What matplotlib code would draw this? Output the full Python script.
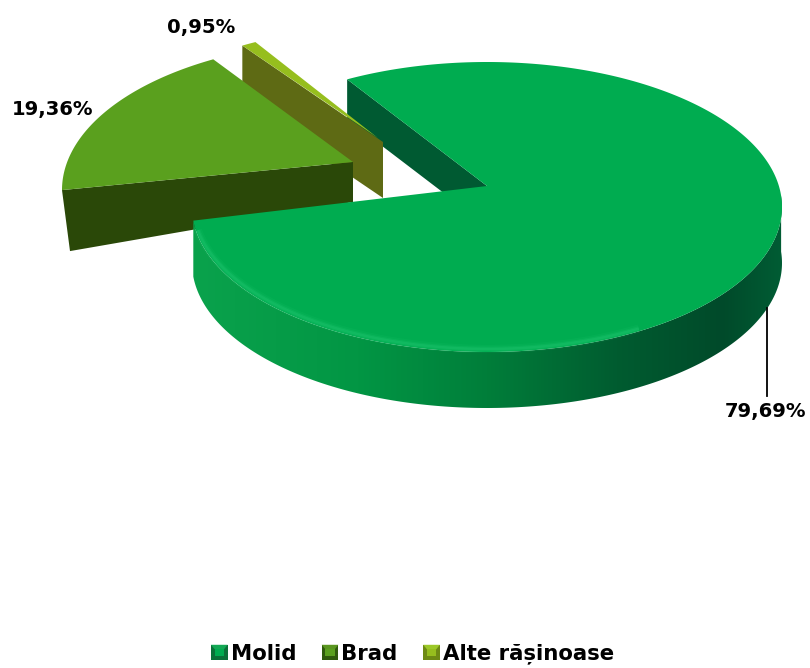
import numpy as np
import matplotlib
matplotlib.use("Agg")
import matplotlib.pyplot as plt
from matplotlib.patches import Polygon, Rectangle
from matplotlib.legend_handler import HandlerBase
from matplotlib.colors import LinearSegmentedColormap

# ---- data
categories = ["Molid", "Brad", "Alte rășinoase"]
shares = [79.69, 19.36, 0.95]
label_xy = [(765, 412), (53, 110), (201, 27)]

# ---- styling / layout of the fake perspective (pixel space)
top_colors = ["#00AC50", "#5AA01E", "#96BE1E"]
cut_colors = ["#005A32", "#2A4808", "#5E6A14"]
legend_dark = ["#0A7038", "#2F5A0C", "#6E8A14"]
legend_light = ["#12A854", "#5A9620", "#9CC828"]
# ellipse centre, radii | apex | start param angle | signed sweep scale | rim depth | apex depth
geom = [
    dict(c=(487, 207), r=(295, 145), apex=(487, 186), start=118.3, k=-1.021, rim=56, inner=40),
    dict(c=(353, 190), r=(291, 149), apex=(353, 162), start=118.7, k=0.88, rim=61, inner=40),
    dict(c=(383, 176), r=(291, 149), apex=(378, 138), start=116.0, k=0.85, rim=57, inner=58),
]

fig = plt.figure(figsize=(8.10, 6.68), dpi=100, facecolor="white")
ax = fig.add_axes([0, 0, 1, 1])
ax.set_xlim(0, 810)
ax.set_ylim(668, 0)
ax.axis("off")


def arc(g, share):
    sweep = share / 100 * 360 * g["k"]
    t = np.radians(np.linspace(g["start"], g["start"] + sweep, max(8, int(abs(sweep) * 2))))
    x = g["c"][0] + g["r"][0] * np.cos(t)
    y = g["c"][1] - g["r"][1] * np.sin(t)
    return np.column_stack([x, y])


font = dict(family="DejaVu Sans", fontweight="bold", color="black", fontsize=14.1)

# ---- Molid cut face goes behind the exploded slices
g = geom[0]
pts = arc(g, shares[0])
ap = np.array(g["apex"], float)
ax.add_patch(Polygon([pts[0], pts[0] + [0, g["inner"]], ap + [0, g["inner"]], ap], closed=True,
                     fc=cut_colors[0], ec="none", zorder=0.5))

# ---- Alte: long cut face then thin top
g = geom[2]
pts = arc(g, shares[2])
ap = np.array(g["apex"], float)
ax.add_patch(Polygon([pts[-1], pts[-1] + [0, g["rim"]], ap + [5, g["inner"] + 2], ap + [5, 4]],
                     closed=True, fc=cut_colors[2], ec="none", zorder=1))
ax.add_patch(Polygon(np.vstack([pts, ap]), closed=True, fc=top_colors[2], ec="none", zorder=2))

# ---- Brad
g = geom[1]
pts = arc(g, shares[1])
ap = np.array(g["apex"], float)
ax.add_patch(Polygon([pts[-1], pts[-1] + [8, g["rim"]], ap + [0, g["inner"]], ap], closed=True,
                     fc=cut_colors[1], ec="none", zorder=3))
ax.add_patch(Polygon(np.vstack([pts, ap]), closed=True, fc=top_colors[1], ec="none", zorder=4))

# ---- Molid rim and top
g = geom[0]
pts = arc(g, shares[0])
ap = np.array(g["apex"], float)
rim_cmap = LinearSegmentedColormap.from_list(
    "rim", [(0, "#0AA24C"), (0.28, "#029644"), (0.5, "#007E3A"), (0.72, "#005C30"), (0.9, "#004A2A"), (1, "#005C34")])
lower = pts[pts[:, 1] >= 195]
rim_band = Polygon(np.vstack([lower, (lower + [0, g["rim"]])[::-1]]), closed=True, fc="none", ec="none",
                   transform=ax.transData)
ax.add_patch(rim_band)
x0, x1 = lower[:, 0].min(), lower[:, 0].max()
shade = ax.imshow(np.linspace(0, 1, 256)[None, :], cmap=rim_cmap, aspect="auto", zorder=6,
                  extent=(x0, x1, lower[:, 1].max() + g["rim"], lower[:, 1].min()), interpolation="bilinear")
shade.set_clip_path(rim_band)
ax.set_xlim(0, 810)
ax.set_ylim(668, 0)
ax.add_patch(Polygon(np.vstack([pts, ap]), closed=True, fc=top_colors[0], ec="none", zorder=7))
# soft highlight along the front-left rim, inside the top surface
front = pts[(pts[:, 1] > 232) & (pts[:, 0] < 640)]
for lw, alpha in [(6, 0.06), (3.5, 0.10), (1.8, 0.14)]:
    ax.plot(front[:, 0] + 1, front[:, 1] - 3, color="#40E090", lw=lw, alpha=alpha, zorder=8,
            solid_capstyle="butt")

# ---- leader and data labels
ax.plot([767, 767], [308, 396], color="black", lw=1.3, zorder=9)
for v, (x, y) in zip(shares, label_xy):
    ax.text(x, y, f"{v:.2f}%".replace(".", ","), ha="center", va="center", zorder=10, **font)


# ---- legend with bevelled keys
class BevelKey(HandlerBase):
    def create_artists(self, legend, orig, xd, yd, w, h, fs, trans):
        i = int(orig.get_gid())
        s = min(w, h)
        return [Rectangle((-xd, -yd), s * 1.12, s, fc=legend_dark[i], ec="none", transform=trans),
                Polygon([(-xd, -yd + s), (-xd + s * 1.12, -yd + s), (-xd + s * .88, -yd + s * .7),
                         (-xd + s * .25, -yd + s * .7)],
                        closed=True, fc=legend_light[i], ec="none", transform=trans),
                Rectangle((-xd + s * .25, -yd + s * .25), s * .63, s * .5, fc=top_colors[i], ec="none",
                          transform=trans)]


handles = [Rectangle((0, 0), 1, 1, gid=str(i)) for i in range(3)]
leg = ax.legend(handles, categories, handler_map={Rectangle: BevelKey()}, ncol=3, frameon=False,
                loc="center", bbox_to_anchor=(412.5 / 810, 1 - 654 / 668), bbox_transform=fig.transFigure,
                prop=dict(family="DejaVu Sans", weight="bold", size=15.3),
                handlelength=0.75, handleheight=0.7, handletextpad=0.18, columnspacing=1.2, borderpad=0,
                borderaxespad=0)

fig.savefig("out.png", dpi=100, facecolor="white")
